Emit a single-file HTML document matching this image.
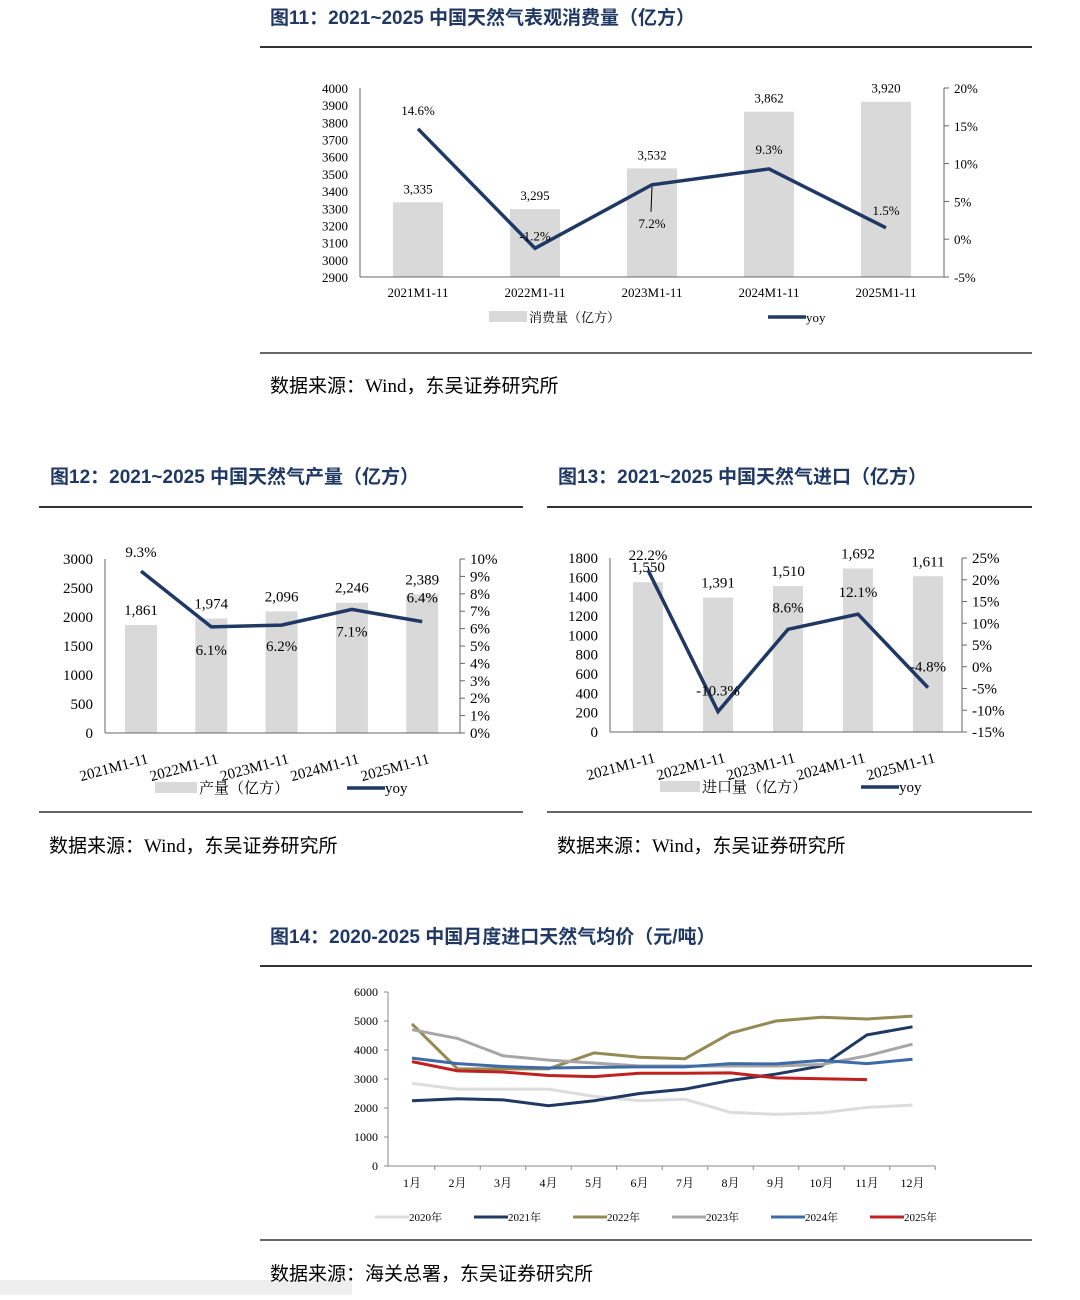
<!DOCTYPE html>
<html><head><meta charset="utf-8">
<style>
body{margin:0;background:#fff;}
svg text{font-family:"Liberation Serif","Noto Serif CJK SC",serif;fill:#000;}
.t{font-family:"Liberation Sans","Noto Sans CJK SC",sans-serif;font-weight:bold;fill:#1f3864;font-size:19px;}
.src{font-family:"Liberation Serif","Noto Sans CJK SC",sans-serif;font-size:19px;}
</style></head>
<body>
<svg id="s" width="1080" height="1295" xmlns="http://www.w3.org/2000/svg">
<rect x="0" y="1280" width="352" height="15" fill="#eeeeee"/>
<text class="t" x="270" y="24">图11：2021~2025 中国天然气表观消费量（亿方）</text>
<line x1="260" y1="47" x2="1032" y2="47" stroke="#333" stroke-width="2"/>
<line x1="260" y1="353" x2="1032" y2="353" stroke="#333" stroke-width="1.5"/>
<text class="src" x="270" y="392">数据来源：Wind，东吴证券研究所</text>

<text class="t" x="50" y="483">图12：2021~2025 中国天然气产量（亿方）</text>
<line x1="39" y1="507" x2="523" y2="507" stroke="#333" stroke-width="2"/>
<line x1="39" y1="812" x2="523" y2="812" stroke="#333" stroke-width="1.5"/>
<text class="src" x="49" y="852">数据来源：Wind，东吴证券研究所</text>

<text class="t" x="558" y="483">图13：2021~2025 中国天然气进口（亿方）</text>
<line x1="547" y1="507" x2="1032" y2="507" stroke="#333" stroke-width="2"/>
<line x1="547" y1="812" x2="1032" y2="812" stroke="#333" stroke-width="1.5"/>
<text class="src" x="557" y="852">数据来源：Wind，东吴证券研究所</text>

<text class="t" x="270" y="943">图14：2020-2025 中国月度进口天然气均价（元/吨）</text>
<line x1="260" y1="966" x2="1032" y2="966" stroke="#333" stroke-width="2"/>
<line x1="260" y1="1240" x2="1032" y2="1240" stroke="#333" stroke-width="1.5"/>
<text class="src" x="270" y="1280">数据来源：海关总署，东吴证券研究所</text>
<g id="g"></g>
</svg>
<script>
// ---- data ----
const cats = ["2021M1-11","2022M1-11","2023M1-11","2024M1-11","2025M1-11"];
const consVals = [3335,3295,3532,3862,3920];
const consYoy = [14.6,-1.2,7.2,9.3,1.5];
const prodVals = [1861,1974,2096,2246,2389];
const prodYoy = [9.3,6.1,6.2,7.1,6.4];
const impVals = [1550,1391,1510,1692,1611];
const impYoy = [22.2,-10.3,8.6,12.1,-4.8];
const months = ["1月","2月","3月","4月","5月","6月","7月","8月","9月","10月","11月","12月"];
const priceYears = ["2020年","2021年","2022年","2023年","2024年","2025年"];
const p2020 = [2850,2650,2650,2650,2400,2250,2300,1850,1780,1830,2020,2100];
const p2021 = [2250,2320,2280,2080,2250,2500,2650,2950,3170,3450,4520,4800];
const p2022 = [4900,3350,3350,3350,3900,3750,3700,4580,5000,5130,5070,5170];
const p2023 = [4700,4400,3800,3650,3550,3450,3450,3450,3450,3500,3800,4200];
const p2024 = [3720,3530,3430,3380,3400,3420,3420,3530,3520,3640,3530,3680];
const p2025 = [3600,3280,3240,3120,3080,3200,3200,3210,3040,3010,2980];
const priceTicks = [0,1000,2000,3000,4000,5000,6000];

const NS="http://www.w3.org/2000/svg";
const G=document.getElementById('g');
function el(tag,attrs,txt){const e=document.createElementNS(NS,tag);for(const k in attrs)e.setAttribute(k,attrs[k]);if(txt!==undefined)e.textContent=txt;G.appendChild(e);return e;}
const fmt=v=>v.toLocaleString('en-US');

function combo(o){
  const yL=v=>o.yb-(v-o.lmin)/(o.lmax-o.lmin)*(o.yb-o.yt);
  const yR=v=>o.yb-(v-o.rmin)/(o.rmax-o.rmin)*(o.yb-o.yt);
  const xC=i=>o.x0+i*o.dx;
  for(let v=o.lmin;v<=o.lmax+1e-9;v+=o.lstep){
    const t=el('text',{x:o.xl-12,y:yL(v)+5,'text-anchor':'end','font-size':o.fs},String(v));
    
  }
  for(let v=o.rmin;v<=o.rmax+1e-9;v+=o.rstep){
    const t=el('text',{x:o.xr+10,y:yR(v)+5,'font-size':o.fs},Math.round(v)+'%');
    
    el('line',{x1:o.xr,x2:o.xr+5,y1:yR(v),y2:yR(v),stroke:'#666'});
  }
  o.vals.forEach((v,i)=>{
    const b=el('rect',{x:xC(i)-o.bw/2,y:yL(v),width:o.bw,height:o.yb-yL(v),fill:'#d9d9d9'});
    
    const t=el('text',{x:xC(i),y:yL(v)-o.lblOff,'text-anchor':'middle','font-size':o.fs},fmt(v));
    
  });
  el('line',{x1:o.xl,x2:o.xl,y1:o.yt,y2:o.yb,stroke:'#666'});
  el('line',{x1:o.xr,x2:o.xr,y1:o.yt,y2:o.yb,stroke:'#666'});
  el('line',{x1:o.xl,x2:o.xr,y1:o.yb,y2:o.yb,stroke:'#666'});
  const ln=el('polyline',{points:o.yoy.map((v,i)=>xC(i)+','+yR(v)).join(' '),fill:'none',stroke:'#1f3864','stroke-width':3.5});
  
  o.yoy.forEach((v,i)=>{
    const dy=o.yoyOff[i];
    if(o.leader&&o.leader[i]){
      const lk=el('line',{x1:xC(i),x2:xC(i)-1,y1:yR(v)+2,y2:yR(v)+dy-16,stroke:'#000','stroke-width':1});
      
    }
    const t=el('text',{x:xC(i),y:yR(v)+dy,'text-anchor':'middle','font-size':o.fs},v.toFixed(1)+'%');
    
  });
  o.cats.forEach((c,i)=>{
    const t=o.rot?el('text',{x:xC(i)+8,y:o.yb+30,'text-anchor':'end','font-size':o.fs,transform:`rotate(-15 ${xC(i)+8} ${o.yb+30})`},c)
                  :el('text',{x:xC(i),y:o.yb+20,'text-anchor':'middle','font-size':o.fs},c);
    
  });
  const lg=el('rect',{x:o.lgx,y:o.lgy-6,width:o.lgw,height:11,fill:'#d9d9d9'});
  
  const lt=el('text',{x:o.lgx+o.lgw+2,y:o.lgy+5,'font-size':o.fs},o.barName);
  
  const ll=el('line',{x1:o.lgx2,x2:o.lgx2+38,y1:o.lgy,y2:o.lgy,stroke:'#1f3864','stroke-width':3.5});
  
  const lt2=el('text',{x:o.lgx2+38,y:o.lgy+5,'font-size':o.fs},'yoy');
  
}

combo({cats,vals:consVals,yoy:consYoy,lmin:2900,lmax:4000,lstep:100,rmin:-5,rmax:20,rstep:5,
 xl:360,xr:944,yt:88,yb:277,x0:418,dx:117,bw:50,fs:13,lblOff:9,yoyOff:[-14,-8,43,-15,-13],leader:[0,0,1,0,0],
 lgx:489,lgy:317,lgw:38,barName:'消费量（亿方）',lgx2:768});
combo({cats,vals:prodVals,yoy:prodYoy,lmin:0,lmax:3000,lstep:500,rmin:0,rmax:10,rstep:1,
 xl:105,xr:460,yt:559,yb:733,x0:141,dx:70.3,bw:32,fs:15,lblOff:10,yoyOff:[-14,28,26,27,-19],
 rot:true,lgx:155,lgy:788,lgw:42,barName:'产量（亿方）',lgx2:347});
combo({cats,vals:impVals,yoy:impYoy,lmin:0,lmax:1800,lstep:200,rmin:-15,rmax:25,rstep:5,
 xl:610,xr:962,yt:558,yb:732,x0:648,dx:70,bw:30,fs:15,lblOff:10,yoyOff:[-10,-16,-17,-17,-16],
 rot:true,lgx:660,lgy:787,lgw:40,barName:'进口量（亿方）',lgx2:861});

// ---- chart 14 ----
(function(){
 const xl=388,xr=935,yt=992,yb=1166,x0=412,dx=45.5;
 const X=i=>x0+i*dx, Y=v=>yb-v/6000*(yb-yt);
 priceTicks.forEach(v=>{
   const t=el('text',{x:xl-10,y:Y(v)+4,'text-anchor':'end','font-size':12},String(v));
   
   el('line',{x1:xl-4,x2:xl,y1:Y(v),y2:Y(v),stroke:'#888'});
 });
 el('line',{x1:xl,x2:xl,y1:yt,y2:yb,stroke:'#888'});
 el('line',{x1:xl,x2:xr,y1:yb,y2:yb,stroke:'#888'});
 months.forEach((m,i)=>{
   el('line',{x1:X(i)+dx/2,x2:X(i)+dx/2,y1:yb,y2:yb+4,stroke:'#888'});
   const t=el('text',{x:X(i),y:yb+21,'text-anchor':'middle','font-size':12},m);
   
 });
 const series=[p2020,p2021,p2022,p2023,p2024,p2025];
 const colors=['#dcdcdc','#1f3864','#948a54','#a6a6a6','#3f6aa8','#c0201f'];
 series.forEach((s,k)=>{
   const l=el('polyline',{points:s.map((v,i)=>X(i)+','+Y(v)).join(' '),fill:'none',stroke:colors[k],'stroke-width':3});
   
   const lx=375+k*99;
   const sw=el('line',{x1:lx,x2:lx+34,y1:1217,y2:1217,stroke:colors[k],'stroke-width':3});
   
   const t=el('text',{x:lx+34,y:1221,'font-size':11},priceYears[k]);
   
 });
})();
</script>
</body></html>
